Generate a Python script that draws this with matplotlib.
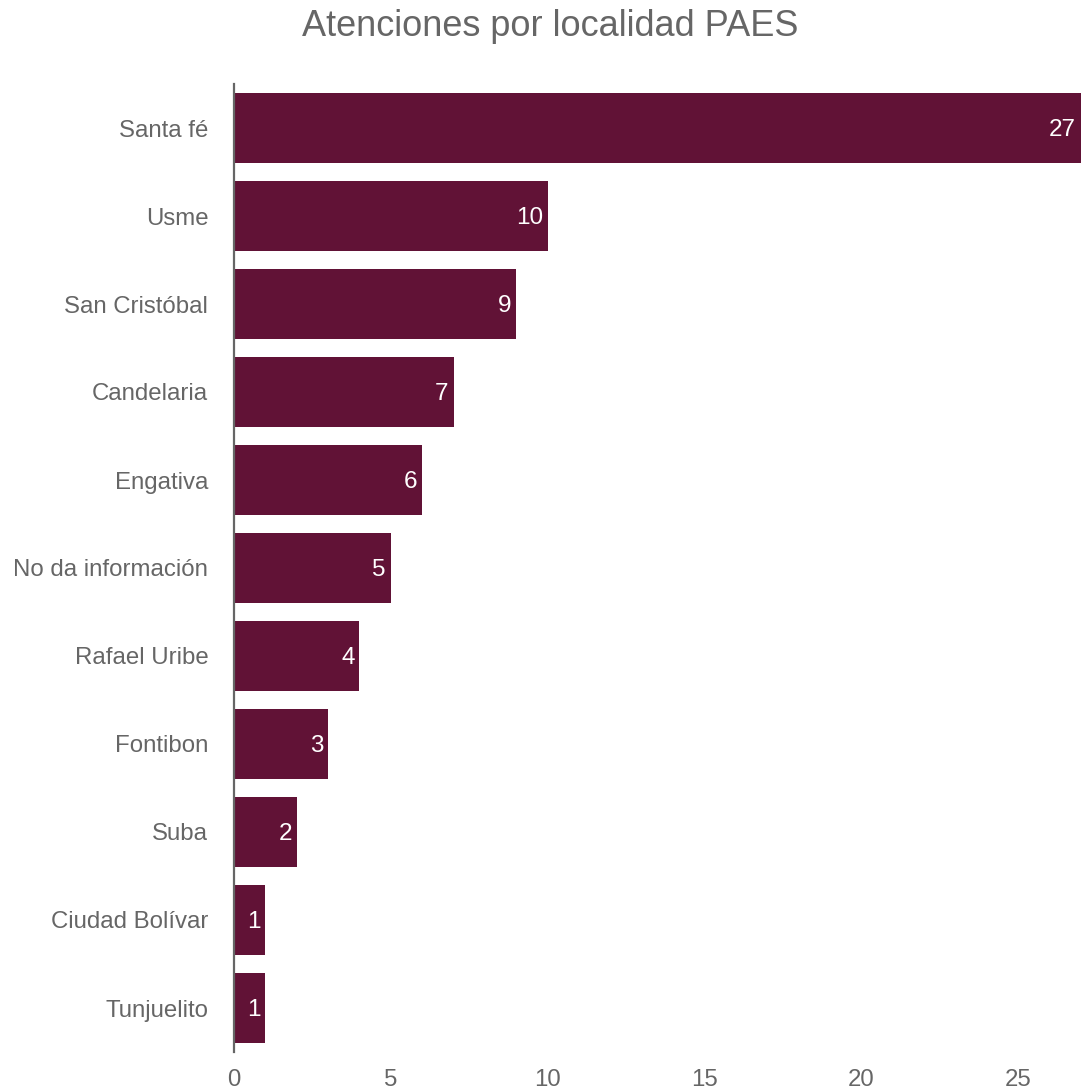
import matplotlib
matplotlib.use("Agg")
import matplotlib.pyplot as plt

categories = ["Santa fé", "Usme", "San Cristóbal", "Candelaria", "Engativa",
              "No da información", "Rafael Uribe", "Fontibon", "Suba",
              "Ciudad Bolívar", "Tunjuelito"]
values = [27, 10, 9, 7, 6, 5, 4, 3, 2, 1, 1]
xticks = [0, 5, 10, 15, 20, 25]

plt.rcParams['font.family'] = ['Liberation Sans', 'DejaVu Sans']
gray = "#666666"
bar_color = "#611236"

fig = plt.figure(figsize=(10.81, 10.92), dpi=100)
ax = fig.add_axes([234/1081, 1 - 1052/1092, 1 - 234/1081, (1052 - 84)/1092])

ypos = list(range(len(categories)))
bars = ax.barh(ypos, values, height=0.8, color=bar_color)
ax.set_ylim(len(categories) - 0.5, -0.5)
ax.set_xlim(0, 27)
ax.set_yticks(ypos)
ax.set_yticklabels(categories, fontsize=17.3, color=gray)
ax.set_xticks(xticks)
ax.set_xticklabels([str(t) for t in xticks], fontsize=17.3, color=gray)
ax.tick_params(axis='both', length=0)
ax.tick_params(axis='y', pad=18.5)
ax.tick_params(axis='x', pad=12)
for s in ["top", "right", "bottom"]:
    ax.spines[s].set_visible(False)
ax.spines["left"].set_color(gray)
ax.spines["left"].set_linewidth(1.6)
for y, v in zip(ypos, values):
    ax.annotate(str(v), xy=(v, y), xytext=(-3.5, -1.5), textcoords='offset points',
                ha='right', va='center', color='white', fontsize=17.5)

fig.text(550/1081, 1 - 27/1092, "Atenciones por localidad PAES", ha='center', va='center',
         fontsize=26, color=gray)

fig.savefig("out.png", dpi=100)
